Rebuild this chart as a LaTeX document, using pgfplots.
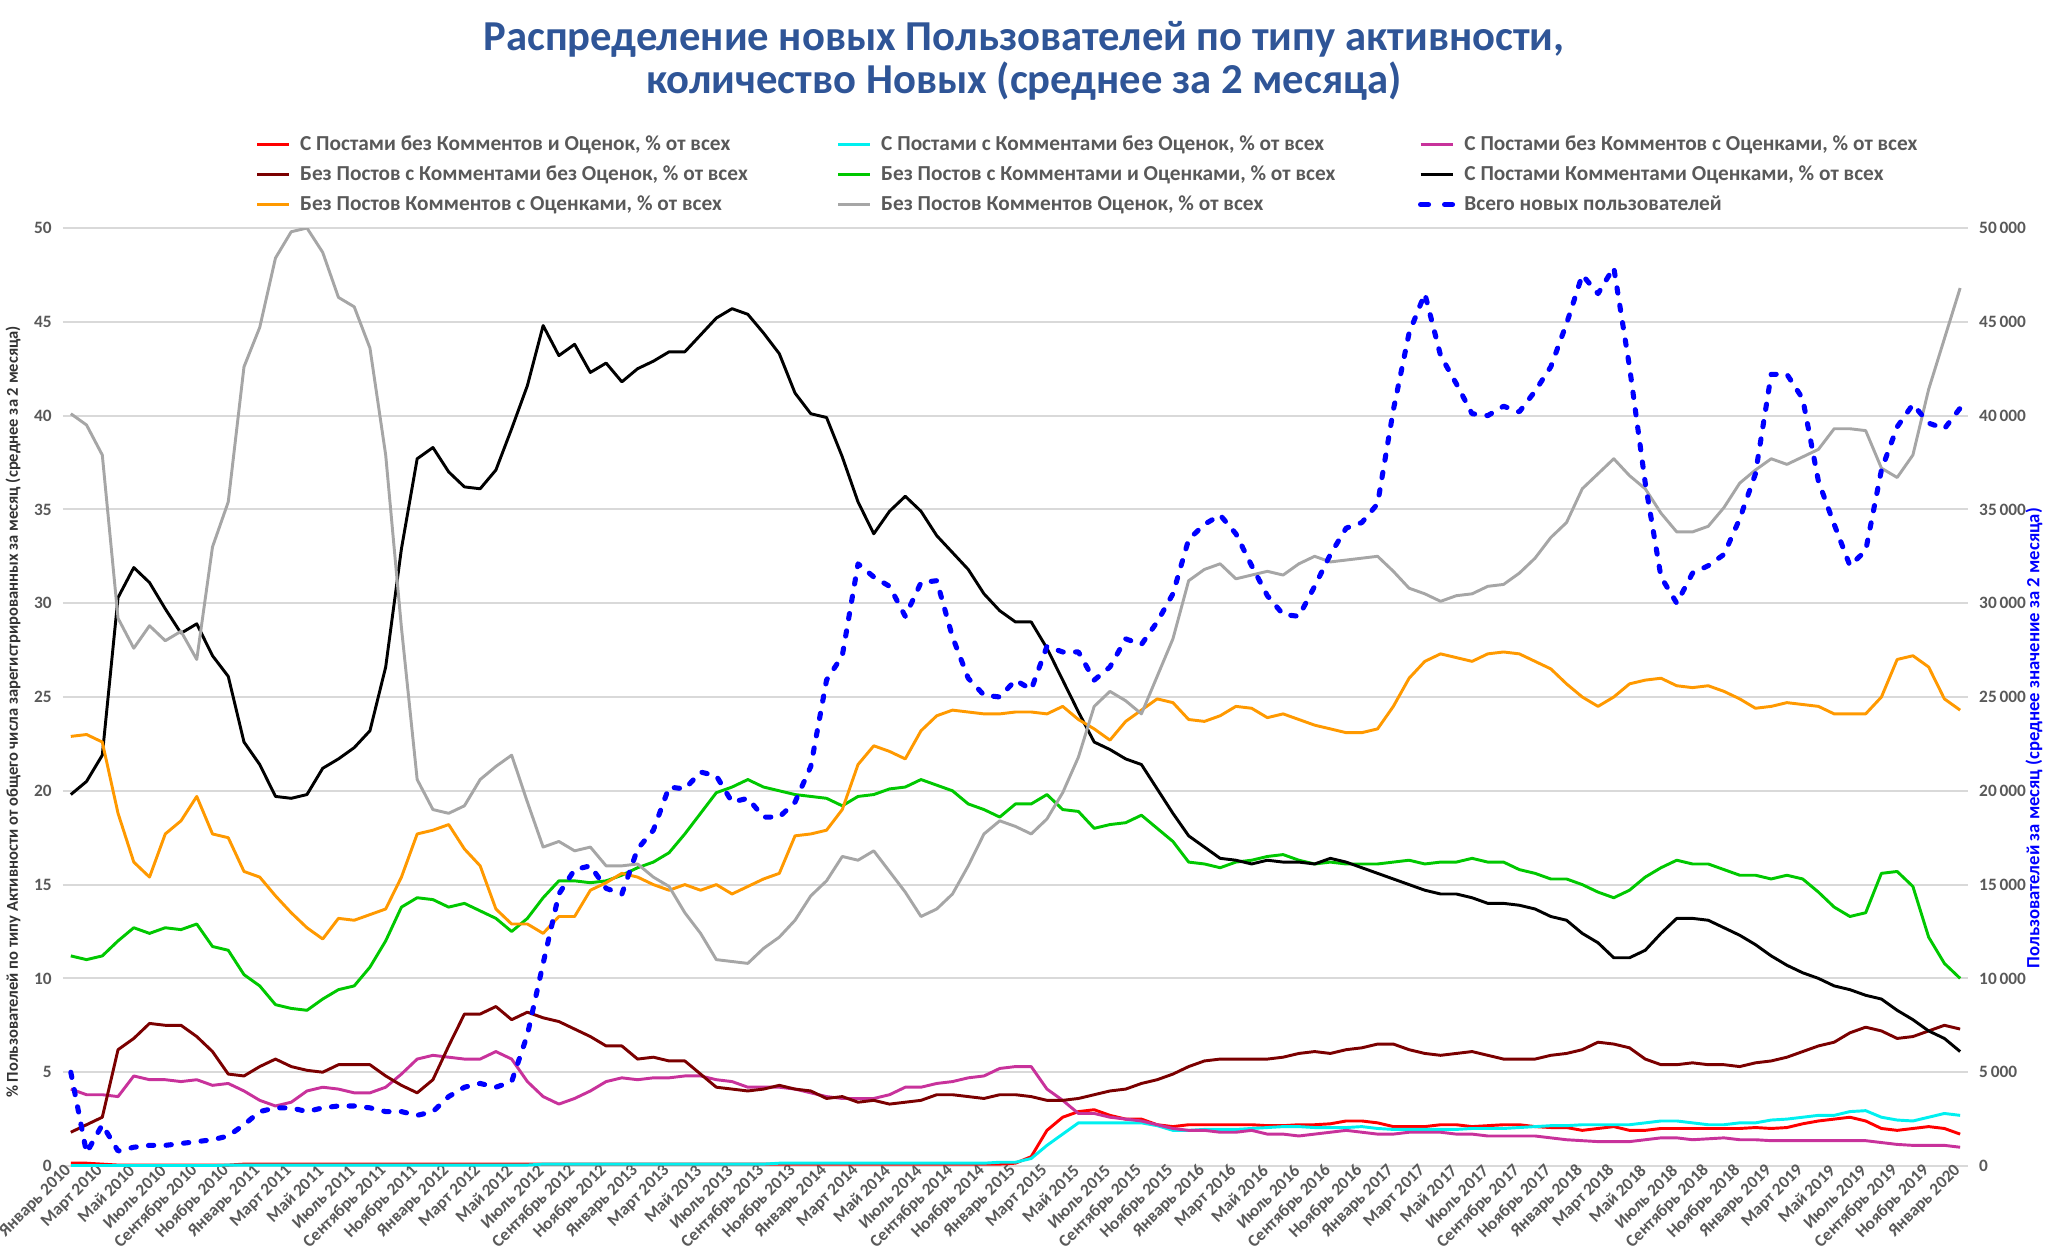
\documentclass[border=0pt]{standalone}
\usepackage{fontspec}
\setmainfont{Carlito}
\usepackage{pgfplots}
\usepackage{pgfplotstable}
\pgfplotsset{compat=1.18}
\definecolor{cRed}{HTML}{FF0000}
\definecolor{cCyan}{HTML}{00F0F0}
\definecolor{cMag}{HTML}{C8329B}
\definecolor{cDRed}{HTML}{7B0000}
\definecolor{cGreen}{HTML}{00C800}
\definecolor{cOrange}{HTML}{FF9900}
\definecolor{cGray}{HTML}{A6A6A6}
\definecolor{cBlue}{HTML}{0000FF}
\definecolor{labgray}{HTML}{595959}
\definecolor{gridgray}{HTML}{D9D9D9}
\definecolor{titleblue}{HTML}{2F5597}

\pgfplotstableread{
m R C M D G B O Y N
0 0.15 0.02 4.1 1.8 11.2 19.8 22.9 40.1 5000
1 0.15 0.02 3.8 2.2 11.0 20.5 23.0 39.5 700
2 0.10 0.02 3.8 2.6 11.2 21.9 22.6 37.9 2200
3 0.05 0.02 3.7 6.2 12.0 30.3 18.8 29.2 800
4 0.05 0.02 4.8 6.8 12.7 31.9 16.2 27.6 1000
5 0.05 0.02 4.6 7.6 12.4 31.1 15.4 28.8 1100
6 0.05 0.02 4.6 7.5 12.7 29.7 17.7 28.0 1100
7 0.05 0.02 4.5 7.5 12.6 28.4 18.4 28.5 1200
8 0.05 0.02 4.6 6.9 12.9 28.9 19.7 27.0 1300
9 0.05 0.02 4.3 6.1 11.7 27.2 17.7 33.0 1400
10 0.05 0.05 4.4 4.9 11.5 26.1 17.5 35.4 1600
11 0.10 0.05 4.0 4.8 10.2 22.6 15.7 42.6 2200
12 0.10 0.05 3.5 5.3 9.6 21.4 15.4 44.7 2900
13 0.10 0.05 3.2 5.7 8.6 19.7 14.4 48.4 3100
14 0.10 0.05 3.4 5.3 8.4 19.6 13.5 49.8 3100
15 0.10 0.05 4.0 5.1 8.3 19.8 12.7 50.0 2900
16 0.10 0.05 4.2 5.0 8.9 21.2 12.1 48.7 3100
17 0.10 0.05 4.1 5.4 9.4 21.7 13.2 46.3 3200
18 0.10 0.05 3.9 5.4 9.6 22.3 13.1 45.8 3200
19 0.10 0.05 3.9 5.4 10.6 23.2 13.4 43.6 3100
20 0.10 0.05 4.2 4.8 12.0 26.6 13.7 37.9 2900
21 0.10 0.05 4.9 4.3 13.8 32.9 15.4 28.7 2900
22 0.10 0.05 5.7 3.9 14.3 37.7 17.7 20.6 2700
23 0.10 0.05 5.9 4.6 14.2 38.3 17.9 19.0 2900
24 0.10 0.05 5.8 6.4 13.8 37.0 18.2 18.8 3700
25 0.10 0.05 5.7 8.1 14.0 36.2 16.9 19.2 4200
26 0.10 0.05 5.7 8.1 13.6 36.1 16.0 20.6 4400
27 0.10 0.05 6.1 8.5 13.2 37.1 13.7 21.3 4200
28 0.10 0.05 5.7 7.8 12.5 39.3 12.9 21.9 4500
29 0.10 0.05 4.5 8.2 13.2 41.6 12.9 19.4 7000
30 0.10 0.10 3.7 7.9 14.3 44.8 12.4 17.0 10800
31 0.10 0.10 3.3 7.7 15.2 43.2 13.3 17.3 14500
32 0.10 0.10 3.6 7.3 15.2 43.8 13.3 16.8 15800
33 0.10 0.10 4.0 6.9 15.1 42.3 14.7 17.0 16000
34 0.10 0.10 4.5 6.4 15.2 42.8 15.1 16.0 14800
35 0.10 0.10 4.7 6.4 15.5 41.8 15.6 16.0 14500
36 0.10 0.10 4.6 5.7 15.9 42.5 15.4 16.1 16900
37 0.10 0.10 4.7 5.8 16.2 42.9 15.0 15.4 17900
38 0.10 0.10 4.7 5.6 16.7 43.4 14.7 14.9 20200
39 0.10 0.10 4.8 5.6 17.7 43.4 15.0 13.5 20100
40 0.10 0.10 4.8 4.9 18.8 44.3 14.7 12.4 21000
41 0.10 0.10 4.6 4.2 19.9 45.2 15.0 11.0 20800
42 0.10 0.10 4.5 4.1 20.2 45.7 14.5 10.9 19400
43 0.10 0.10 4.2 4.0 20.6 45.4 14.9 10.8 19600
44 0.10 0.10 4.2 4.1 20.2 44.4 15.3 11.6 18600
45 0.10 0.15 4.2 4.3 20.0 43.3 15.6 12.2 18600
46 0.10 0.15 4.1 4.1 19.8 41.2 17.6 13.1 19400
47 0.10 0.15 3.9 4.0 19.7 40.1 17.7 14.4 21300
48 0.10 0.15 3.7 3.6 19.6 39.9 17.9 15.2 25900
49 0.10 0.15 3.6 3.7 19.2 37.8 19.0 16.5 27200
50 0.10 0.15 3.6 3.4 19.7 35.4 21.4 16.3 32100
51 0.10 0.15 3.6 3.5 19.8 33.7 22.4 16.8 31400
52 0.10 0.15 3.8 3.3 20.1 34.9 22.1 15.7 30900
53 0.10 0.15 4.2 3.4 20.2 35.7 21.7 14.6 29300
54 0.10 0.15 4.2 3.5 20.6 34.9 23.2 13.3 31100
55 0.10 0.15 4.4 3.8 20.3 33.6 24.0 13.7 31200
56 0.10 0.15 4.5 3.8 20.0 32.7 24.3 14.5 28200
57 0.10 0.15 4.7 3.7 19.3 31.8 24.2 16.0 26000
58 0.10 0.15 4.8 3.6 19.0 30.5 24.1 17.7 25100
59 0.10 0.20 5.2 3.8 18.6 29.6 24.1 18.4 25000
60 0.15 0.20 5.3 3.8 19.3 29.0 24.2 18.1 25900
61 0.50 0.40 5.3 3.7 19.3 29.0 24.2 17.7 25400
62 1.90 1.10 4.1 3.5 19.8 27.6 24.1 18.5 27700
63 2.60 1.70 3.5 3.5 19.0 25.9 24.5 19.9 27400
64 2.90 2.30 2.8 3.6 18.9 24.2 23.8 21.8 27400
65 3.00 2.30 2.8 3.8 18.0 22.6 23.3 24.5 25900
66 2.70 2.30 2.6 4.0 18.2 22.2 22.7 25.3 26600
67 2.50 2.30 2.5 4.1 18.3 21.7 23.7 24.8 28100
68 2.50 2.30 2.4 4.4 18.7 21.4 24.3 24.1 27800
69 2.20 2.15 2.2 4.6 18.0 20.1 24.9 26.1 29000
70 2.10 1.90 2.0 4.9 17.3 18.8 24.7 28.1 30500
71 2.20 1.90 1.9 5.3 16.2 17.6 23.8 31.2 33400
72 2.20 1.95 1.9 5.6 16.1 17.0 23.7 31.8 34200
73 2.20 1.95 1.8 5.7 15.9 16.4 24.0 32.1 34700
74 2.20 1.95 1.8 5.7 16.2 16.3 24.5 31.3 33700
75 2.20 2.00 1.9 5.7 16.3 16.1 24.4 31.5 32000
76 2.15 2.05 1.7 5.7 16.5 16.3 23.9 31.7 30400
77 2.15 2.10 1.7 5.8 16.6 16.2 24.1 31.5 29400
78 2.20 2.10 1.6 6.0 16.3 16.2 23.8 32.1 29300
79 2.20 2.05 1.7 6.1 16.1 16.1 23.5 32.5 30900
80 2.25 2.05 1.8 6.0 16.2 16.4 23.3 32.2 32600
81 2.40 2.05 1.9 6.2 16.1 16.2 23.1 32.3 34000
82 2.40 2.10 1.8 6.3 16.1 15.9 23.1 32.4 34300
83 2.30 2.00 1.7 6.5 16.1 15.6 23.3 32.5 35300
84 2.10 1.95 1.7 6.5 16.2 15.3 24.5 31.7 40300
85 2.10 1.95 1.8 6.2 16.3 15.0 26.0 30.8 44400
86 2.10 1.95 1.8 6.0 16.1 14.7 26.9 30.5 46500
87 2.20 1.95 1.8 5.9 16.2 14.5 27.3 30.1 43200
88 2.20 1.95 1.7 6.0 16.2 14.5 27.1 30.4 41700
89 2.10 2.00 1.7 6.1 16.4 14.3 26.9 30.5 40100
90 2.15 2.00 1.6 5.9 16.2 14.0 27.3 30.9 40000
91 2.20 2.00 1.6 5.7 16.2 14.0 27.4 31.0 40500
92 2.20 2.05 1.6 5.7 15.8 13.9 27.3 31.6 40200
93 2.10 2.10 1.6 5.7 15.6 13.7 26.9 32.4 41300
94 2.05 2.15 1.5 5.9 15.3 13.3 26.5 33.5 42600
95 2.05 2.15 1.4 6.0 15.3 13.1 25.7 34.3 44900
96 1.90 2.20 1.35 6.2 15.0 12.4 25.0 36.1 47500
97 2.00 2.20 1.3 6.6 14.6 11.9 24.5 36.9 46500
98 2.10 2.20 1.3 6.5 14.3 11.1 25.0 37.7 47900
99 1.90 2.20 1.3 6.3 14.7 11.1 25.7 36.8 42600
100 1.90 2.30 1.4 5.7 15.4 11.5 25.9 36.1 36400
101 2.00 2.40 1.5 5.4 15.9 12.4 26.0 34.8 31400
102 2.00 2.40 1.5 5.4 16.3 13.2 25.6 33.8 30000
103 2.00 2.30 1.4 5.5 16.1 13.2 25.5 33.8 31600
104 2.00 2.20 1.45 5.4 16.1 13.1 25.6 34.1 32000
105 2.00 2.20 1.5 5.4 15.8 12.7 25.3 35.1 32600
106 2.00 2.30 1.4 5.3 15.5 12.3 24.9 36.4 34500
107 2.05 2.30 1.4 5.5 15.5 11.8 24.4 37.1 36900
108 2.00 2.45 1.35 5.6 15.3 11.2 24.5 37.7 42200
109 2.05 2.50 1.35 5.8 15.5 10.7 24.7 37.4 42200
110 2.25 2.60 1.35 6.1 15.3 10.3 24.6 37.8 40900
111 2.40 2.70 1.35 6.4 14.6 10.0 24.5 38.2 36500
112 2.50 2.70 1.35 6.6 13.8 9.6 24.1 39.3 34200
113 2.60 2.90 1.35 7.1 13.3 9.4 24.1 39.3 32000
114 2.40 2.95 1.35 7.4 13.5 9.1 24.1 39.2 32800
115 2.00 2.60 1.25 7.2 15.6 8.9 25.0 37.2 37100
116 1.90 2.45 1.15 6.8 15.7 8.3 27.0 36.7 39400
117 2.00 2.40 1.1 6.9 14.9 7.8 27.2 37.9 40600
118 2.10 2.60 1.1 7.2 12.2 7.2 26.6 41.4 39600
119 2.00 2.80 1.1 7.5 10.8 6.8 24.9 44.1 39300
120 1.70 2.70 1.0 7.3 10.0 6.1 24.3 46.8 40400
}\data

\newcommand{\lt}[1]{\makebox[200.3pt][l]{#1}}

\begin{document}
\begin{tikzpicture}
\begin{axis}[
  at={(23.6pt,34.5pt)}, anchor=south west,
  width=714.4pt, height=351.75pt, scale only axis,
  xmin=-0.5, xmax=120.5, ymin=0, ymax=50,
  ytick={0,5,...,50},
  xtick={0,2,...,120},
  xticklabels={Январь 2010,Март 2010,Май 2010,Июль 2010,Сентябрь 2010,Ноябрь 2010,
    Январь 2011,Март 2011,Май 2011,Июль 2011,Сентябрь 2011,Ноябрь 2011,
    Январь 2012,Март 2012,Май 2012,Июль 2012,Сентябрь 2012,Ноябрь 2012,
    Январь 2013,Март 2013,Май 2013,Июль 2013,Сентябрь 2013,Ноябрь 2013,
    Январь 2014,Март 2014,Май 2014,Июль 2014,Сентябрь 2014,Ноябрь 2014,
    Январь 2015,Март 2015,Май 2015,Июль 2015,Сентябрь 2015,Ноябрь 2015,
    Январь 2016,Март 2016,Май 2016,Июль 2016,Сентябрь 2016,Ноябрь 2016,
    Январь 2017,Март 2017,Май 2017,Июль 2017,Сентябрь 2017,Ноябрь 2017,
    Январь 2018,Март 2018,Май 2018,Июль 2018,Сентябрь 2018,Ноябрь 2018,
    Январь 2019,Март 2019,Май 2019,Июль 2019,Сентябрь 2019,Ноябрь 2019,
    Январь 2020},
  ymajorgrids,
  grid style={draw=gridgray, line width=0.8pt},
  axis line style={draw=none},
  major tick length=0pt,
  /pgf/number format/assume math mode=true,
  tick label style={font=\bfseries\fontsize{6.5}{7}\selectfont, text=labgray},
  xticklabel style={rotate=45, anchor=east, inner sep=1pt},
  yticklabel style={inner sep=1pt, xshift=-3pt},
  ylabel={\% Пользователей по типу Активности от общего числа зарегистрированных за месяц (среднее за 2 месяца)},
  ylabel style={at={(axis description cs:-0.0262,0.484)}, anchor=center,
    font=\bfseries\fontsize{6.2}{7}\selectfont, text=black!80},
  legend columns=3,
  legend cell align=left,
  legend style={at={(axis description cs:0.101,1.103)}, anchor=north west,
    draw=none, fill=none, inner sep=0pt,
    font=\bfseries\fontsize{8}{9}\selectfont, text=labgray,
    column sep=0pt, row sep=1.75pt,
    nodes={inner sep=1pt, text height=6pt, text depth=1.5pt}},
  legend image code/.code={\draw[#1] (0pt,0pt) -- (12pt,0pt); \path (14.5pt,0pt);},
  every axis plot/.append style={line width=1.1pt, line join=round},
]
\addplot[cRed] table[x=m,y=R]{\data};
\addlegendentry{\lt{С Постами без Комментов и Оценок, \% от всех}}
\addplot[cCyan] table[x=m,y=C]{\data};
\addlegendentry{\lt{С Постами с Комментами без Оценок, \% от всех}}
\addplot[cMag] table[x=m,y=M]{\data};
\addlegendentry{\lt{С Постами без Комментов с Оценками, \% от всех}}
\addplot[cDRed] table[x=m,y=D]{\data};
\addlegendentry{\lt{Без Постов с Комментами без Оценок, \% от всех}}
\addplot[cGreen] table[x=m,y=G]{\data};
\addlegendentry{\lt{Без Постов с Комментами и Оценками, \% от всех}}
\addplot[black] table[x=m,y=B]{\data};
\addlegendentry{\lt{С Постами Комментами Оценками, \% от всех}}
\addplot[cOrange] table[x=m,y=O]{\data};
\addlegendentry{\lt{Без Постов Комментов с Оценками, \% от всех}}
\addplot[cGray] table[x=m,y=Y]{\data};
\addlegendentry{\lt{Без Постов Комментов Оценок, \% от всех}}
\addlegendimage{cBlue, line width=1.9pt, line cap=round, dash pattern=on 3pt off 6pt}
\addlegendentry{\lt{Всего новых пользователей}}
\end{axis}
\begin{axis}[
  at={(23.6pt,34.5pt)}, anchor=south west,
  width=714.4pt, height=351.75pt, scale only axis,
  xmin=-0.5, xmax=120.5, ymin=0, ymax=50000,
  axis x line=none, axis y line*=right,
  axis line style={draw=none},
  major tick length=0pt,
  ytick={0,5000,...,50000},
  scaled y ticks=false,
  /pgf/number format/assume math mode=true,
  /pgf/number format/1000 sep={\,},
  yticklabel style={font=\bfseries\fontsize{6.5}{7}\selectfont, text=labgray, inner sep=1pt, xshift=3pt},
  ylabel={Пользователей за месяц (среднее значение за 2 месяца)},
  ylabel style={at={(axis description cs:1.0346,0.456)}, anchor=center,
    font=\bfseries\fontsize{7}{8}\selectfont, text=cBlue},
]
\addplot[cBlue, line width=1.9pt, line cap=round, line join=round, dash pattern=on 2pt off 4.6pt] table[x=m,y=N]{\data};
\end{axis}
\node[font=\bfseries\fontsize{16}{16.2}\selectfont, text=titleblue, align=center] at (384pt,449pt)
  {Распределение новых Пользователей по типу активности,\\количество Новых (среднее за 2 месяца)};
\pgfresetboundingbox
\path (0,0) rectangle (768pt,471.75pt);
\end{tikzpicture}
\end{document}
